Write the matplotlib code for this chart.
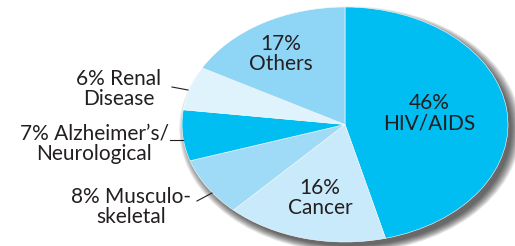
import matplotlib.pyplot as plt
from matplotlib.patches import Ellipse

# Shares of the pie, clockwise from the top
shares = [46, 16, 8, 7, 6, 17]
names = ['HIV/AIDS', 'Cancer', 'Musculo-\nskeletal', 'Alzheimer\u2019s/\nNeurological',
         'Renal\nDisease', 'Others']
colors = ['#00bef2', '#c9eafb', '#9fdbf6', '#00bef2', '#dff3fc', '#8fd6f6']

plt.rcParams['font.family'] = ['Lato', 'DejaVu Sans']
ink = '#231f20'

W, H = 515, 246
fig = plt.figure(figsize=(W / 100, H / 100), dpi=100)

# pie axes: ellipse from x=182..508, y=7..242 (pixels from top)
left, right, top, bottom = 182, 508, 7, 242
pax = fig.add_axes([left / W, 1 - bottom / H, (right - left) / W, (bottom - top) / H])
pax.axis('off')

wedges, _ = pax.pie(shares, colors=colors, startangle=90, counterclock=False,
                    radius=1, wedgeprops=dict(edgecolor='white', linewidth=0.4))
for w in wedges:
    w.set_zorder(2)

# soft drop shadow
sx, sy = 5 / 163, -5 / 117.5
for k in range(14):
    s = 0.99 + 0.0045 * k
    pax.add_patch(Ellipse((sx, sy), 2 * s, 2 * s, facecolor='#000000',
                          alpha=0.06, edgecolor='none', zorder=0, clip_on=False))

pax.set_aspect('auto')
pax.set_xlim(-1, 1)
pax.set_ylim(-1, 1)

# overlay axes in pixel coordinates for labels
ax = fig.add_axes([0, 0, 1, 1])
ax.set_xlim(0, W)
ax.set_ylim(H, 0)
ax.axis('off')

fs = 15
inside = {0: (429, 113), 1: (320, 198), 5: (281, 54)}
for i, (x, y) in inside.items():
    ax.text(x, y, f'{shares[i]}%\n{names[i]}', ha='center', va='center',
            fontsize=fs, color=ink, linespacing=1.0)

outside = {2: (131, 207), 3: (94, 144), 4: (119, 89)}
for i, (x, y) in outside.items():
    first, second = names[i].split('\n')
    ax.text(x, y, f'{shares[i]}% {first}\n{second}', ha='center', va='center',
            fontsize=fs, color=ink, linespacing=1.0)

# leader lines
ax.plot([172, 188], [87, 90], color=ink, lw=0.8)
ax.plot([170, 183], [140, 140], color=ink, lw=0.8)
ax.plot([197, 212], [201, 193], color=ink, lw=0.8)

fig.savefig('out.png', dpi=100)
